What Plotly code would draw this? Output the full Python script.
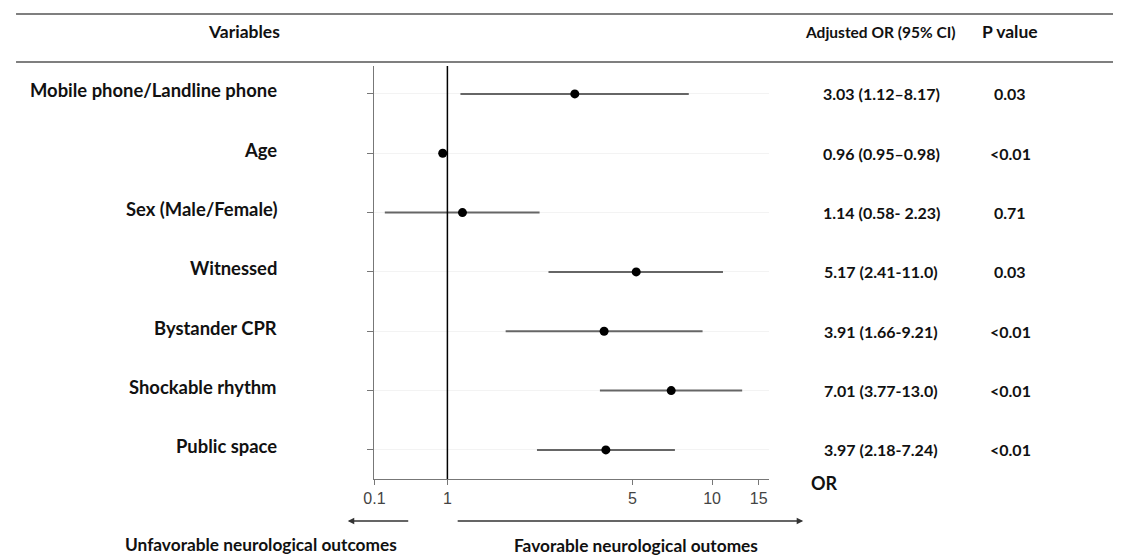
import plotly.graph_objects as go

# ---- data ----
variables = ["Mobile phone/Landline phone", "Age", "Sex (Male/Female)", "Witnessed",
             "Bystander CPR", "Shockable rhythm", "Public space"]
odds_ratio = [3.03, 0.96, 1.14, 5.17, 3.91, 7.01, 3.97]
ci_low = [1.12, 0.95, 0.58, 2.41, 1.66, 3.77, 2.18]
ci_high = [8.17, 0.98, 2.23, 11.0, 9.21, 13.0, 7.24]
or_text = ["3.03 (1.12\u20138.17)", "0.96 (0.95\u20130.98)", "1.14 (0.58- 2.23)",
           "5.17 (2.41-11.0)", "3.91 (1.66-9.21)", "7.01 (3.77-13.0)", "3.97 (2.18-7.24)"]
p_text = ["0.03", "<0.01", "0.71", "0.03", "<0.01", "<0.01", "<0.01"]
x_tickvals = [0.53, 1, 5, 10, 15]
x_ticktext = ["0.1", "1", "5", "10", "15"]

# page has an 8px body margin; compensate
OFF_X, OFF_Y = 13, 8
FW, FH = 1121 - 8, 556 - 8
def px(x):
    return (x - OFF_X) / FW
def py(y):
    return 1 - (y - OFF_Y) / FH

rows = list(range(len(variables)))
BOLD = "Lato"
fig = go.Figure()

fig.add_trace(go.Scatter(
    x=odds_ratio, y=rows, mode="markers",
    marker=dict(color="black", size=9),
    error_x=dict(type="data", symmetric=False,
                 array=[h - o for h, o in zip(ci_high, odds_ratio)],
                 arrayminus=[o - l for o, l in zip(odds_ratio, ci_low)],
                 width=0, thickness=2, color="#666666"),
    showlegend=False, hoverinfo="skip"))

fig.update_layout(
    width=FW, height=FH, margin=dict(l=0, r=0, t=0, b=0),
    paper_bgcolor="white", plot_bgcolor="white",
    xaxis=dict(type="log", domain=[px(372), px(770)],
               range=[0.7243 - 1, 1.2135],
               tickvals=x_tickvals, ticktext=x_ticktext,
               ticks="outside", ticklen=5, tickcolor="#777", showline=True,
               linecolor="#777", linewidth=1, showgrid=False, zeroline=False,
               tickfont=dict(family="Liberation Sans", size=16, color="#444")),
    yaxis=dict(domain=[py(479), py(66)], range=[6.49, -0.47],
               tickvals=rows, showticklabels=False, ticks="outside", ticklen=6,
               tickcolor="#777", showline=True, linecolor="#777", linewidth=1,
               showgrid=True, gridcolor="#f3f3f3", zeroline=False),
)

# reference line at OR = 1
fig.add_shape(type="line", xref="x", yref="y domain", x0=1, x1=1, y0=0, y1=1,
              line=dict(color="black", width=1.5))

# header lines
for yy in (14, 62):
    fig.add_shape(type="line", xref="paper", yref="paper", x0=px(10), x1=1,
                  y0=py(yy), y1=py(yy), line=dict(color="#555", width=1.5))

def fb(size):
    return dict(family=BOLD, size=size, color="#111")

anns = []
anns.append(dict(text="<b>Variables</b>", x=px(240), y=py(32), xref="paper", yref="paper",
                 showarrow=False, font=fb(17.5), xanchor="center", yanchor="middle"))
anns.append(dict(text="<b>Adjusted OR (95% CI)</b>", x=px(883), y=py(32), xref="paper", yref="paper",
                 showarrow=False, font=fb(15.5), xanchor="center", yanchor="middle"))
anns.append(dict(text="<b>P value</b>", x=px(1014), y=py(32), xref="paper", yref="paper",
                 showarrow=False, font=fb(17.5), xanchor="center", yanchor="middle"))
for i, (v, o, p) in enumerate(zip(variables, or_text, p_text)):
    anns.append(dict(text=f"<b>{v}</b>", x=px(276), y=i - 0.06, xref="paper", yref="y",
                     showarrow=False, font=fb(18.4), xanchor="right", yanchor="middle"))
    anns.append(dict(text=f"<b>{o}</b>", x=px(884), y=i, xref="paper", yref="y",
                     showarrow=False, font=fb(16), xanchor="center", yanchor="middle"))
    anns.append(dict(text=f"<b>{p}</b>", x=px(1014), y=i, xref="paper", yref="y",
                     showarrow=False, font=fb(16), xanchor="center", yanchor="middle"))

anns.append(dict(text="<b>OR</b>", x=px(811), y=py(483), xref="paper", yref="paper",
                 showarrow=False, font=fb(18), xanchor="left", yanchor="middle"))
# arrows
anns.append(dict(text="", x=px(345), y=py(521), xref="paper", yref="paper",
                 showarrow=True, ax=62, ay=0, arrowhead=2, arrowsize=1, arrowwidth=1.3,
                 arrowcolor="#333"))
anns.append(dict(text="", x=px(805), y=py(521), xref="paper", yref="paper",
                 showarrow=True, ax=-347, ay=0, arrowhead=2, arrowsize=1, arrowwidth=1.3,
                 arrowcolor="#333"))
anns.append(dict(text="<b>Unfavorable neurological outcomes</b>", x=px(257), y=py(544),
                 xref="paper", yref="paper", showarrow=False, font=fb(17.3),
                 xanchor="center", yanchor="middle"))
anns.append(dict(text="<b>Favorable neurological outomes</b>", x=px(636), y=py(545),
                 xref="paper", yref="paper", showarrow=False, font=fb(17.3),
                 xanchor="center", yanchor="middle"))
fig.update_layout(annotations=anns)

fig.write_html("out.html")
